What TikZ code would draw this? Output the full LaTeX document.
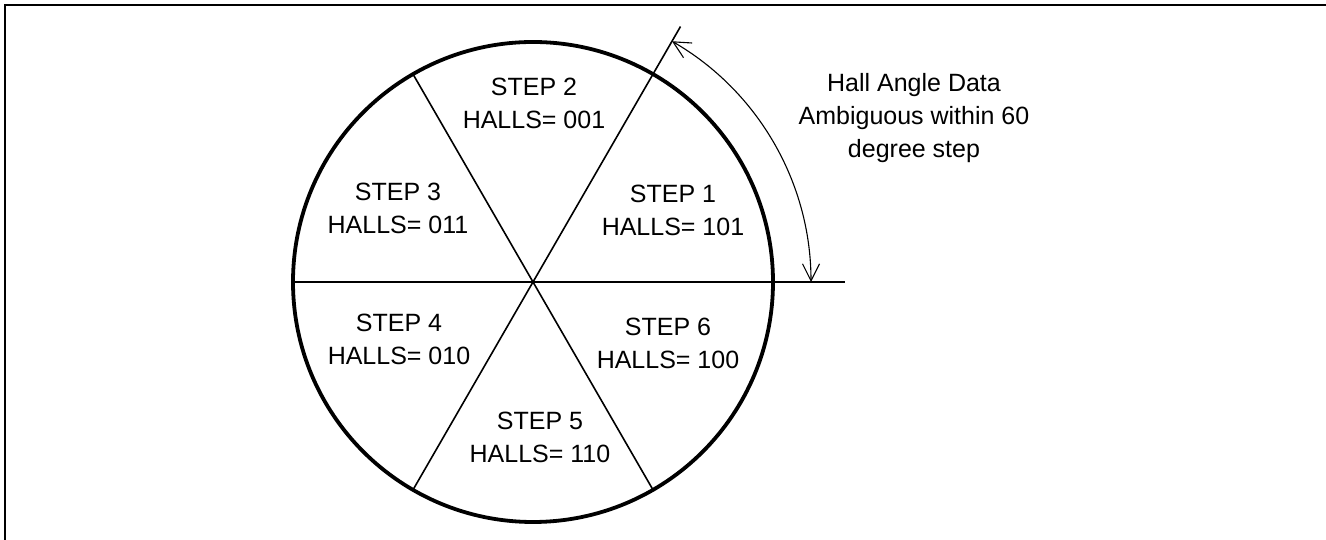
\documentclass[tikz,border=0pt]{standalone}
\usepackage{fontspec}
\setmainfont{Liberation Sans}
\usetikzlibrary{calc,arrows.meta}
\begin{document}
\begin{tikzpicture}[x=1pt,y=1pt,
  lbl/.style={align=center,inner sep=0pt,font=\fontsize{25}{33}\selectfont},
  divider/.style={line width=1.6pt},
  rim/.style={line width=3.8pt},
  frameline/.style={line width=2.6pt},
  angarrow/.style={line width=1.1pt,{Straight Barb[length=17pt,width=17pt]}-{Straight Barb[length=17pt,width=17pt]}}]
\useasboundingbox (0,0) rectangle (1326,540);
% frame (top and left edges)
\coordinate (fTL) at (5,535);
\coordinate (fTR) at (1326,535);
\coordinate (fBL) at (5,0);
\draw[frameline] (fBL) -- (fTL) -- (fTR);
% wheel
\coordinate (O) at (533,258);
\coordinate (c0) at ($(O)+(0:240)$);
\coordinate (c120) at ($(O)+(120:240)$);
\coordinate (c180) at ($(O)+(180:240)$);
\coordinate (c240) at ($(O)+(240:240)$);
\coordinate (c300) at ($(O)+(300:240)$);
\coordinate (e60) at ($(O)+(60:295)$);
\coordinate (e0) at ($(O)+(0:312)$);
\draw[divider] (c180) -- (e0);
\draw[divider] (c240) -- (e60);
\draw[divider] (c120) -- (c300);
\draw[rim] (O) circle[radius=240];
% angle arrow
\coordinate (a60) at ($(O)+(60:278)$);
\coordinate (a0) at ($(O)+(0:278)$);
\draw[angarrow] (a60) arc[start angle=60,end angle=0,radius=278];
% labels
\node[lbl] (s2) at (534,437) {STEP 2\\HALLS= 001};
\node[lbl] (s1) at (673,330) {STEP 1\\HALLS= 101};
\node[lbl] (s3) at (398,332) {STEP 3\\HALLS= 011};
\node[lbl] (s4) at (399,201) {STEP 4\\HALLS= 010};
\node[lbl] (s6) at (668,197) {STEP 6\\HALLS= 100};
\node[lbl] (s5) at (540,103) {STEP 5\\HALLS= 110};
\node[lbl] (note) at (914,422) {Hall Angle Data\\Ambiguous within 60\\degree step};
\end{tikzpicture}
\end{document}
